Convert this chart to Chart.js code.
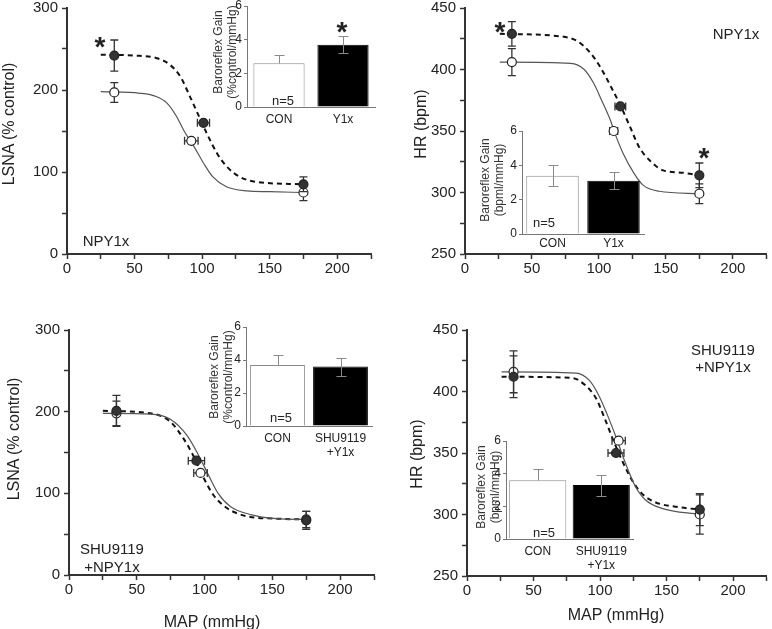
<!DOCTYPE html>
<html>
<head>
<meta charset="utf-8">
<script src="https://cdn.jsdelivr.net/npm/chart.js@4.4.0/dist/chart.umd.min.js"></script>
<style>
  body { margin: 0; background: #fff; }
  #wrap { position: relative; width: 772px; height: 629px; overflow: hidden;
          font-family: "Liberation Sans", Arial, sans-serif; color: #222; }
  canvas { position: absolute; }
  .ct { position: absolute; line-height: 1; white-space: nowrap; text-align: center; transform: translate(-50%, -50%); }
  .rt { position: absolute; line-height: 1; white-space: nowrap; text-align: center; transform: translate(-50%, -50%) rotate(-90deg); }
  .star { position: absolute; font-weight: bold; font-size: 28px; line-height: 1; transform: translateX(-50%); }
</style>
</head>
<body>
<div id="wrap">
  <canvas id="pA" width="386" height="300" style="left:0;top:0"></canvas>
  <canvas id="pB" width="386" height="300" style="left:386px;top:0"></canvas>
  <canvas id="pC" width="386" height="329" style="left:0;top:300px"></canvas>
  <canvas id="pD" width="386" height="329" style="left:386px;top:300px"></canvas>
  <canvas id="gA" width="190" height="135" style="left:200px;top:0"></canvas>
  <canvas id="gB" width="190" height="140" style="left:460px;top:120px"></canvas>
  <canvas id="gC" width="190" height="150" style="left:200px;top:315px"></canvas>
  <canvas id="gD" width="190" height="150" style="left:460px;top:430px"></canvas>

  <div class="rt" style="left:9px;top:124px;font-size:16px">LSNA (% control)</div>
  <div class="rt" style="left:421px;top:124px;font-size:16px">HR (bpm)</div>
  <div class="rt" style="left:14px;top:439px;font-size:16px">LSNA (% control)</div>
  <div class="rt" style="left:417px;top:454px;font-size:16px">HR (bpm)</div>
  <div class="ct" style="left:212px;top:622px;font-size:16px">MAP (mmHg)</div>
  <div class="ct" style="left:616px;top:615px;font-size:16px">MAP (mmHg)</div>

  <div class="rt" style="left:225px;top:52px;font-size:12px;line-height:14px;color:#333">Baroreflex Gain<br>(%control/mmHg)</div>
  <div class="rt" style="left:492px;top:180px;font-size:12px;line-height:14px;color:#333">Baroreflex Gain<br>(bpml/mmHg)</div>
  <div class="rt" style="left:221px;top:377px;font-size:12px;line-height:14px;color:#333">Baroreflex Gain<br>(%control/mmHg)</div>
  <div class="rt" style="left:488px;top:487px;font-size:12px;line-height:14px;color:#333">Baroreflex Gain<br>(bpml/mmHg)</div>

  <div class="ct" style="left:106px;top:240px;font-size:15px">NPY1x</div>
  <div class="ct" style="left:736px;top:33px;font-size:15px">NPY1x</div>
  <div class="ct" style="left:112px;top:558px;font-size:15px;line-height:18px">SHU9119<br>+NPY1x</div>
  <div class="ct" style="left:723px;top:358px;font-size:15px;line-height:17px">SHU9119<br>+NPY1x</div>

  <div class="ct" style="left:283px;top:100px;font-size:13px">n=5</div>
  <div class="ct" style="left:544px;top:222px;font-size:13px">n=5</div>
  <div class="ct" style="left:281px;top:417px;font-size:13px">n=5</div>
  <div class="ct" style="left:544px;top:532px;font-size:13px">n=5</div>

  <div class="star" style="left:100px;top:33px">*</div>
  <div class="star" style="left:500px;top:18px">*</div>
  <div class="star" style="left:704px;top:144px">*</div>
  <div class="star" style="left:342px;top:18px">*</div>
</div>

<script>
// tick labels
const mapTicks = [0, 50, 100, 150, 200];
const lsnaTicks = [0, 100, 200, 300];
const hrTicks = [250, 300, 350, 400, 450];
const gainTicks = [0, 2, 4, 6];

// A: LSNA, NPY1x
const aConMap = [35, 92, 175];
const aConMapErr = [0, 5, 0];
const aConVal = [197, 138, 75];
const aConErr = [12, 0, 10];
const aY1xMap = [35, 101, 175];
const aY1xMapErr = [0, 4.5, 0];
const aY1xVal = [242, 160, 85];
const aY1xErr = [19, 0, 9];
const aConFitX = [25, 54, 66, 74, 81, 87, 94, 101, 108, 118, 133, 150, 175];
const aConFitY = [198, 196, 192, 184, 168, 149, 131, 111, 94, 82, 77, 76, 75];
const aY1xFitX = [25, 50, 66, 76, 84, 91, 96, 103.5, 111, 118, 128, 140, 175];
const aY1xFitY = [243, 242, 239, 231, 216, 192, 174, 147, 123, 107, 94, 88, 85];

// B: HR, NPY1x
const bConMap = [35, 111, 175];
const bConMapErr = [0, 3, 0];
const bConVal = [406, 350, 299];
const bConErr = [11, 0, 8];
const bY1xMap = [35, 116, 175];
const bY1xMapErr = [0, 4, 0];
const bY1xVal = [429, 370, 314];
const bY1xErr = [10, 0, 10];
const bConFitX = [26, 79, 89, 96, 102, 108.5, 113, 118, 126, 133, 145, 175];
const bConFitY = [406, 405, 400, 389, 375, 359, 345, 332, 316, 306, 301, 299];
const bY1xFitX = [26, 71, 84, 94, 101, 109, 116, 123, 130, 138, 148, 163, 175];
const bY1xFitY = [429, 427, 423, 413, 402, 386, 371, 354, 337, 326, 318, 316, 314];

// C: LSNA, SHU9119 + NPY1x
const cConMap = [35, 97, 175];
const cConMapErr = [0, 5, 0];
const cConVal = [198, 125, 68];
const cConErr = [15, 0, 10];
const cY1xMap = [35, 94, 175];
const cY1xMapErr = [0, 6, 0];
const cY1xVal = [201, 140, 67];
const cY1xErr = [19, 0, 11];
const cConFitX = [25, 60, 74.5, 87, 95.5, 103, 110, 119, 134, 153, 175];
const cConFitY = [198, 197, 191, 171, 147, 122, 100, 84, 74, 69, 68];
const cY1xFitX = [25, 60, 74.5, 84.5, 92, 99, 106.5, 116.5, 131, 153, 175];
const cY1xFitY = [201, 198, 188, 167, 145, 120, 98, 82, 72, 69, 68];

// D: HR, SHU9119 + NPY1x
const dConMap = [35, 114, 175];
const dConMapErr = [0, 5, 0];
const dConVal = [416, 360, 300];
const dConErr = [17, 0, 16];
const dY1xMap = [35, 112, 175];
const dY1xMapErr = [0, 6, 0];
const dY1xVal = [412, 350, 304];
const dY1xErr = [17, 0, 13];
const dConFitX = [26, 82, 92, 99, 105.5, 112, 119, 126.5, 134, 146.5, 175];
const dConFitY = [416, 415, 409, 397, 381, 363, 342, 323, 312, 305, 300];
const dY1xFitX = [26, 79, 89, 97, 103, 109, 116.5, 124, 131.5, 141.5, 159, 175];
const dY1xFitY = [412, 411, 405, 394.5, 379.5, 363, 344, 328, 317, 310, 306, 304];

// inset bar charts: baroreflex gain
const gainCats = ['CON', 'Y1x'];
const gainCatsShu = ['CON', ['SHU9119', '+Y1x']];
const aGain = [2.6, 3.7], aGainUp = [0.5, 0.5], aGainDown = [0, 0.5];
const bGain = [3.4, 3.1], bGainUp = [0.6, 0.5], bGainDown = [0.6, 0.5];
const cGain = [3.7, 3.6], cGainUp = [0.6, 0.5], cGainDown = [0, 0.55];
const dGain = [3.6, 3.3], dGainUp = [0.7, 0.6], dGainDown = [0, 0.65];

const FONT = '"Liberation Sans", Arial, sans-serif';

// error bars drawn right before each point dataset
const errorBars = {
  id: 'errorBars',
  beforeDatasetDraw(chart, args) {
    const ds = chart.data.datasets[args.index];
    if (!ds.errY) return;
    const ctx = chart.ctx, xs = chart.scales.x, ys = chart.scales.y;
    const cap = 4;
    ctx.save();
    ctx.strokeStyle = '#333';
    ctx.lineWidth = 1.3;
    ctx.beginPath();
    ds.data.forEach((p, i) => {
      const px = xs.getPixelForValue(p.x), py = ys.getPixelForValue(p.y);
      if (ds.errY[i]) {
        const t = ys.getPixelForValue(p.y + ds.errY[i]);
        const b = ys.getPixelForValue(p.y - ds.errY[i]);
        ctx.moveTo(px, t); ctx.lineTo(px, b);
        ctx.moveTo(px - cap, t); ctx.lineTo(px + cap, t);
        ctx.moveTo(px - cap, b); ctx.lineTo(px + cap, b);
      }
      if (ds.errX[i]) {
        const l = xs.getPixelForValue(p.x - ds.errX[i]);
        const r = xs.getPixelForValue(p.x + ds.errX[i]);
        ctx.moveTo(l, py); ctx.lineTo(r, py);
        ctx.moveTo(l, py - cap); ctx.lineTo(l, py + cap);
        ctx.moveTo(r, py - cap); ctx.lineTo(r, py + cap);
      }
    });
    ctx.stroke();
    ctx.restore();
  }
};

const gainErrors = {
  id: 'gainErrors',
  afterDatasetsDraw(chart) {
    const ds = chart.data.datasets[0];
    const meta = chart.getDatasetMeta(0);
    const ys = chart.scales.y, ctx = chart.ctx;
    ctx.save();
    ctx.strokeStyle = '#8a8a8a';
    ctx.lineWidth = 1;
    ctx.beginPath();
    meta.data.forEach((bar, i) => {
      const x = Math.round(bar.x) + 0.5;
      const t = Math.round(ys.getPixelForValue(ds.data[i] + ds.errUp[i])) + 0.5;
      const b = Math.round(ys.getPixelForValue(ds.data[i] - ds.errDown[i])) + 0.5;
      ctx.moveTo(x, t); ctx.lineTo(x, b);
      ctx.moveTo(x - 5, t); ctx.lineTo(x + 5, t);
      if (ds.errDown[i]) { ctx.moveTo(x - 5, b); ctx.lineTo(x + 5, b); }
    });
    ctx.stroke();
    ctx.restore();
  }
};

function fitLine(xs, ys, dashed) {
  return {
    data: xs.map((x, i) => ({ x: x, y: ys[i] })),
    showLine: true,
    pointRadius: 0,
    borderColor: dashed ? '#111' : '#555',
    borderWidth: dashed ? 2 : 1.2,
    borderDash: dashed ? [5, 4] : [],
    tension: 0.4,
    cubicInterpolationMode: 'monotone',
    order: 3
  };
}

function dots(xs, ys, ex, ey, filled) {
  return {
    data: xs.map((x, i) => ({ x: x, y: ys[i] })),
    errX: ex,
    errY: ey,
    showLine: false,
    pointRadius: 4.5,
    pointBackgroundColor: filled ? '#333' : '#fff',
    pointBorderColor: '#222',
    pointBorderWidth: 1.2,
    order: filled ? 1 : 2
  };
}

function mainChart(id, p) {
  const grid = { drawOnChartArea: false, tickLength: 5, tickColor: '#333', tickWidth: 1.5 };
  return new Chart(document.getElementById(id), {
    type: 'scatter',
    data: { datasets: p.datasets },
    options: {
      responsive: false,
      animation: false,
      layout: { padding: { top: p.top, right: p.right, left: 0, bottom: 0 } },
      plugins: { legend: { display: false }, tooltip: { enabled: false } },
      scales: {
        x: {
          type: 'linear', min: 0, max: 225,
          afterFit: s => { s.height = p.xh; },
          ticks: { stepSize: 25, autoSkip: false, maxRotation: 0, color: '#222', padding: 2,
                   font: { family: FONT, size: 15, lineHeight: 1 },
                   callback: v => mapTicks.includes(v) ? String(v) : '' },
          grid: grid,
          border: { color: '#333', width: 2 }
        },
        y: {
          min: p.ymin, max: p.ymax,
          afterFit: s => { s.width = p.yw; },
          ticks: { stepSize: p.ystep, autoSkip: false, color: '#222', padding: 4,
                   font: { family: FONT, size: 15, lineHeight: 0.4 },
                   callback: v => p.yticks.includes(v) ? String(v) : '' },
          grid: grid,
          border: { color: '#333', width: 2 }
        }
      }
    },
    plugins: [errorBars]
  });
}

function gainChart(id, p) {
  return new Chart(document.getElementById(id), {
    type: 'bar',
    data: {
      labels: p.cats,
      datasets: [{
        data: p.vals, errUp: p.up, errDown: p.down,
        backgroundColor: ['#fff', '#000'],
        borderColor: ['#8a8a8a', '#000'],
        borderWidth: 1,
        barPercentage: 1,
        categoryPercentage: p.cp
      }]
    },
    options: {
      responsive: false,
      animation: false,
      layout: { padding: { top: p.top, right: p.right, left: 0, bottom: 0 } },
      plugins: { legend: { display: false }, tooltip: { enabled: false } },
      scales: {
        x: {
          afterFit: s => { s.height = p.xh; },
          grid: { display: false, drawTicks: false },
          border: { color: '#777', width: 1 },
          ticks: { font: { family: FONT, size: 12, lineHeight: 1.15 }, color: '#222', padding: p.lp,
                   maxRotation: 0, autoSkip: false }
        },
        y: {
          min: 0, max: 6,
          afterFit: s => { s.width = p.yw; },
          ticks: { stepSize: 2, font: { family: FONT, size: 12, lineHeight: 0.4 }, color: '#222', padding: 2,
                   callback: v => gainTicks.includes(v) ? String(v) : '' },
          grid: { drawOnChartArea: false, tickLength: 3, tickColor: '#777', tickWidth: 1 },
          border: { color: '#777', width: 1 }
        }
      }
    },
    plugins: [gainErrors]
  });
}

mainChart('pA', {
  yw: 67, top: 8, right: 15, xh: 46, ymin: 0, ymax: 300, ystep: 50, yticks: lsnaTicks,
  datasets: [
    fitLine(aConFitX, aConFitY, false), fitLine(aY1xFitX, aY1xFitY, true),
    dots(aConMap, aConVal, aConMapErr, aConErr, false), dots(aY1xMap, aY1xVal, aY1xMapErr, aY1xErr, true)
  ]
});
mainChart('pB', {
  yw: 79, top: 8, right: 4, xh: 46, ymin: 250, ymax: 450, ystep: 25, yticks: hrTicks,
  datasets: [
    fitLine(bConFitX, bConFitY, false), fitLine(bY1xFitX, bY1xFitY, true),
    dots(bConMap, bConVal, bConMapErr, bConErr, false), dots(bY1xMap, bY1xVal, bY1xMapErr, bY1xErr, true)
  ]
});
mainChart('pC', {
  yw: 69, top: 30, right: 12, xh: 54, ymin: 0, ymax: 300, ystep: 50, yticks: lsnaTicks,
  datasets: [
    fitLine(cConFitX, cConFitY, false), fitLine(cY1xFitX, cY1xFitY, true),
    dots(cConMap, cConVal, cConMapErr, cConErr, false), dots(cY1xMap, cY1xVal, cY1xMapErr, cY1xErr, true)
  ]
});
mainChart('pD', {
  yw: 81, top: 30, right: 5, xh: 53, ymin: 250, ymax: 450, ystep: 25, yticks: hrTicks,
  datasets: [
    fitLine(dConFitX, dConFitY, false), fitLine(dY1xFitX, dY1xFitY, true),
    dots(dConMap, dConVal, dConMapErr, dConErr, false), dots(dY1xMap, dY1xVal, dY1xMapErr, dY1xErr, true)
  ]
});

gainChart('gA', { cats: gainCats, vals: aGain, up: aGainUp, down: aGainDown, cp: 0.8,
                  yw: 47, top: 6, right: 15, xh: 28, lp: 6 });
gainChart('gB', { cats: gainCats, vals: bGain, up: bGainUp, down: bGainDown, cp: 0.86,
                  yw: 62, top: 11, right: 6, xh: 26, lp: 3 });
gainChart('gC', { cats: gainCatsShu, vals: cGain, up: cGainUp, down: cGainDown, cp: 0.87,
                  yw: 46, top: 12, right: 18, xh: 39, lp: 6 });
gainChart('gD', { cats: gainCatsShu, vals: dGain, up: dGainUp, down: dGainDown, cp: 0.9,
                  yw: 46, top: 11, right: 17, xh: 41, lp: 6 });
</script>
</body>
</html>
